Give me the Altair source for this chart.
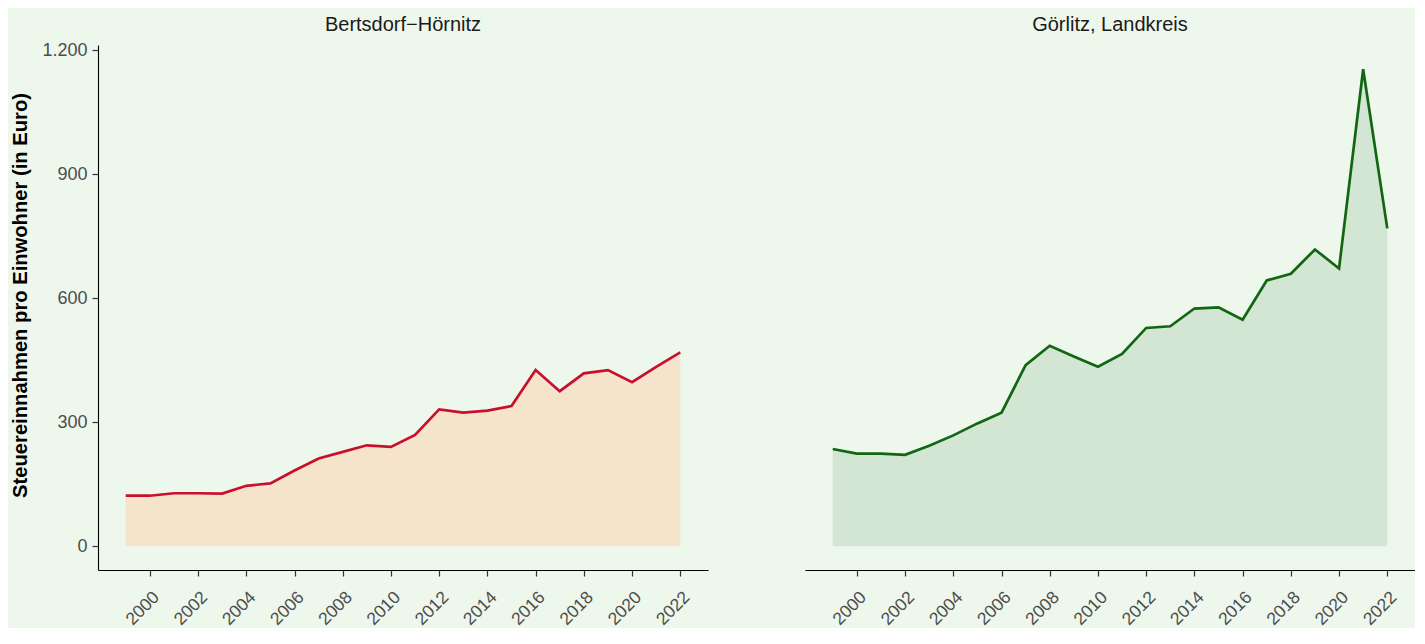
import altair as alt
import pandas as pd

years = list(range(1999, 2023))
bertsdorf = [122, 122, 128, 128, 127, 146, 152, 183, 212, 228, 244, 240,
             269, 331, 323, 328, 339, 426, 375, 418, 426, 397, 434, 469]
goerlitz = [235, 224, 224, 221, 243, 268, 297, 323, 438, 485, 459, 434,
            465, 528, 532, 575, 578, 548, 643, 659, 718, 672, 1154, 769]
tick_years = list(range(2000, 2023, 2))
y_ticks = [0, 300, 600, 900, 1200]

BG = "#EEF7EC"
FONT = "Liberation Sans"


def panel(values, name, fill, stroke, show_y, title_offset):
    df = pd.DataFrame({"Jahr": years, "Wert": values})
    x = alt.X("Jahr:Q",
              scale=alt.Scale(domain=[1997.85, 2023.15], nice=False, zero=False),
              axis=alt.Axis(values=tick_years, format="d", title=None,
                            labelAngle=315, labelAlign="right", labelBaseline="top",
                            labelPadding=12, labelFontSize=17.5, labelColor="#4D4D4D",
                            tickColor="#333333", tickSize=6, tickWidth=1.2,
                            domainColor="#000000", domainWidth=1.1, grid=False))
    if show_y:
        yaxis = alt.Axis(values=y_ticks, title="Steuereinnahmen pro Einwohner (in Euro)",
                         labelExpr="replace(format(datum.value, ','), ',', '.')",
                         labelFontSize=18, labelColor="#4D4D4D", labelPadding=5,
                         tickColor="#333333", tickSize=6, tickWidth=1.2,
                         domainColor="#000000", domainWidth=1.1, grid=False,
                         titleFontSize=20.2, titleFontWeight="bold", titleColor="#000000",
                         titlePadding=11.5, titleY=250)
    else:
        yaxis = None
    y = alt.Y("Wert:Q",
              scale=alt.Scale(domain=[-57.75, 1212.75], nice=False, zero=False),
              axis=yaxis)
    base = alt.Chart(df)
    area = base.mark_area(color=fill, opacity=1).encode(x=x, y=y, y2=alt.datum(0))
    line = base.mark_line(color=stroke, strokeWidth=2.7).encode(x=x, y=y)
    return alt.layer(area, line).properties(
        width=610, height=525,
        title=alt.TitleParams(name, fontSize=20, fontWeight="normal", color="#1A1A1A",
                              anchor="middle", offset=title_offset)
    )


left = panel(bertsdorf, "Bertsdorf\u2212Hörnitz", "#F5E3CC", "#C8102E", True, 6)
right = panel(goerlitz, "Görlitz, Landkreis", "#D3E5D3", "#116611", False, 10)

chart = alt.hconcat(left, right, spacing=97).resolve_scale(y="independent").configure(
    background=BG, font=FONT, padding={"left": 2, "top": 7, "right": 0, "bottom": 0}
).configure_view(stroke=None)

chart.save("out.html", embed_options={"renderer": "svg", "actions": False})
